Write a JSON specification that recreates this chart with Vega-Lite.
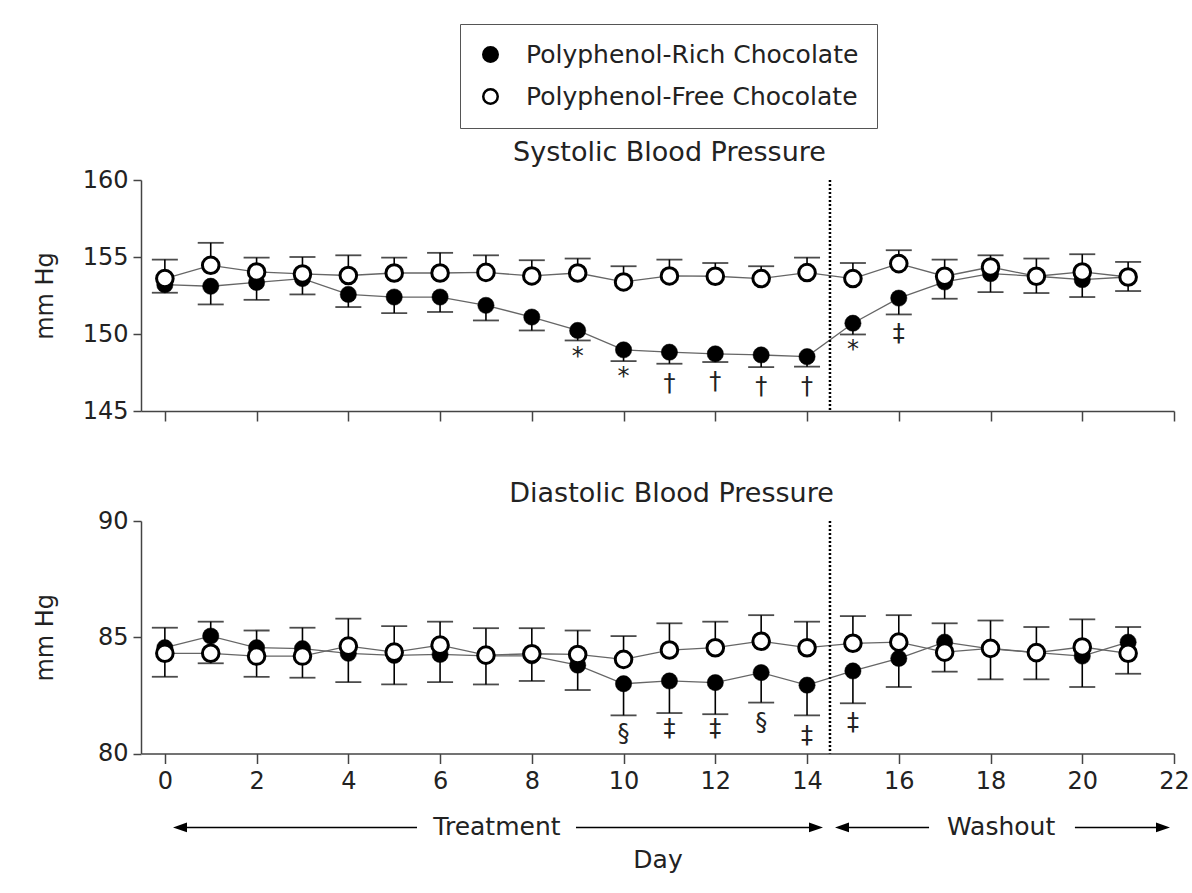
{
  "$schema": "https://vega.github.io/schema/vega-lite/v6.json",
  "background": "white",
  "padding": {"left": 33, "top": 23, "right": 10, "bottom": 5},
  "config": {
    "font": "DejaVu Sans",
    "view": {"stroke": null},
    "axis": {
      "labelFont": "DejaVu Sans", "titleFont": "DejaVu Sans",
      "labelColor": "#222", "titleColor": "#222",
      "domainColor": "#444", "tickColor": "#444",
      "domainWidth": 1.5, "tickWidth": 1.5, "grid": false,
      "labelFontSize": 24, "titleFontSize": 24, "titleFontWeight": "normal",
      "labelFlush": false, "labelOverlap": false
    },
    "title": {"font": "DejaVu Sans", "fontSize": 27, "fontWeight": "normal", "color": "#222"},
    "legend": {
      "labelFont": "DejaVu Sans", "labelFontSize": 25, "labelColor": "#222", "labelLimit": 600,
      "padding": 18, "rowPadding": 16, "symbolSize": 210, "symbolType": "circle",
      "symbolStrokeColor": "black", "symbolStrokeWidth": 2.5, "labelOffset": 23,
      "strokeColor": "#555", "fillColor": "white"
    }
  },
  "datasets": {
    "sys": [
      {"day": 0, "group": "Polyphenol-Rich Chocolate", "mean": 153.2, "err": 152.68},
      {"day": 1, "group": "Polyphenol-Rich Chocolate", "mean": 153.1, "err": 151.92},
      {"day": 2, "group": "Polyphenol-Rich Chocolate", "mean": 153.35, "err": 152.22},
      {"day": 3, "group": "Polyphenol-Rich Chocolate", "mean": 153.6, "err": 152.57},
      {"day": 4, "group": "Polyphenol-Rich Chocolate", "mean": 152.57, "err": 151.75},
      {"day": 5, "group": "Polyphenol-Rich Chocolate", "mean": 152.4, "err": 151.36},
      {"day": 6, "group": "Polyphenol-Rich Chocolate", "mean": 152.4, "err": 151.43},
      {"day": 7, "group": "Polyphenol-Rich Chocolate", "mean": 151.86, "err": 150.88},
      {"day": 8, "group": "Polyphenol-Rich Chocolate", "mean": 151.1, "err": 150.23},
      {"day": 9, "group": "Polyphenol-Rich Chocolate", "mean": 150.23, "err": 149.58},
      {"day": 10, "group": "Polyphenol-Rich Chocolate", "mean": 148.97, "err": 148.24},
      {"day": 11, "group": "Polyphenol-Rich Chocolate", "mean": 148.82, "err": 148.07},
      {"day": 12, "group": "Polyphenol-Rich Chocolate", "mean": 148.71, "err": 148.18},
      {"day": 13, "group": "Polyphenol-Rich Chocolate", "mean": 148.64, "err": 147.85},
      {"day": 14, "group": "Polyphenol-Rich Chocolate", "mean": 148.53, "err": 147.88},
      {"day": 15, "group": "Polyphenol-Rich Chocolate", "mean": 150.7, "err": 149.97},
      {"day": 16, "group": "Polyphenol-Rich Chocolate", "mean": 152.33, "err": 151.27},
      {"day": 17, "group": "Polyphenol-Rich Chocolate", "mean": 153.38, "err": 152.29},
      {"day": 18, "group": "Polyphenol-Rich Chocolate", "mean": 153.92, "err": 152.72},
      {"day": 19, "group": "Polyphenol-Rich Chocolate", "mean": 153.75, "err": 152.66},
      {"day": 20, "group": "Polyphenol-Rich Chocolate", "mean": 153.53, "err": 152.4},
      {"day": 21, "group": "Polyphenol-Rich Chocolate", "mean": 153.7, "err": 152.79},
      {"day": 0, "group": "Polyphenol-Free Chocolate", "mean": 153.6, "err": 154.83},
      {"day": 1, "group": "Polyphenol-Free Chocolate", "mean": 154.46, "err": 155.92},
      {"day": 2, "group": "Polyphenol-Free Chocolate", "mean": 154.03, "err": 154.96},
      {"day": 3, "group": "Polyphenol-Free Chocolate", "mean": 153.9, "err": 155.0},
      {"day": 4, "group": "Polyphenol-Free Chocolate", "mean": 153.8, "err": 155.11},
      {"day": 5, "group": "Polyphenol-Free Chocolate", "mean": 153.96, "err": 154.96},
      {"day": 6, "group": "Polyphenol-Free Chocolate", "mean": 153.96, "err": 155.27},
      {"day": 7, "group": "Polyphenol-Free Chocolate", "mean": 154.0, "err": 155.11},
      {"day": 8, "group": "Polyphenol-Free Chocolate", "mean": 153.77, "err": 154.79},
      {"day": 9, "group": "Polyphenol-Free Chocolate", "mean": 153.96, "err": 154.9},
      {"day": 10, "group": "Polyphenol-Free Chocolate", "mean": 153.38, "err": 154.4},
      {"day": 11, "group": "Polyphenol-Free Chocolate", "mean": 153.77, "err": 154.83},
      {"day": 12, "group": "Polyphenol-Free Chocolate", "mean": 153.75, "err": 154.61},
      {"day": 13, "group": "Polyphenol-Free Chocolate", "mean": 153.6, "err": 154.4},
      {"day": 14, "group": "Polyphenol-Free Chocolate", "mean": 153.99, "err": 154.96},
      {"day": 15, "group": "Polyphenol-Free Chocolate", "mean": 153.6, "err": 154.61},
      {"day": 16, "group": "Polyphenol-Free Chocolate", "mean": 154.57, "err": 155.44},
      {"day": 17, "group": "Polyphenol-Free Chocolate", "mean": 153.75, "err": 154.83},
      {"day": 18, "group": "Polyphenol-Free Chocolate", "mean": 154.35, "err": 155.11},
      {"day": 19, "group": "Polyphenol-Free Chocolate", "mean": 153.75, "err": 154.9},
      {"day": 20, "group": "Polyphenol-Free Chocolate", "mean": 154.03, "err": 155.18},
      {"day": 21, "group": "Polyphenol-Free Chocolate", "mean": 153.7, "err": 154.68}
    ],
    "dia": [
      {"day": 0, "group": "Polyphenol-Rich Chocolate", "mean": 84.55, "err": 83.3},
      {"day": 1, "group": "Polyphenol-Rich Chocolate", "mean": 85.05, "err": 83.88},
      {"day": 2, "group": "Polyphenol-Rich Chocolate", "mean": 84.55, "err": 83.3},
      {"day": 3, "group": "Polyphenol-Rich Chocolate", "mean": 84.51, "err": 83.26},
      {"day": 4, "group": "Polyphenol-Rich Chocolate", "mean": 84.31, "err": 83.07},
      {"day": 5, "group": "Polyphenol-Rich Chocolate", "mean": 84.22, "err": 82.97},
      {"day": 6, "group": "Polyphenol-Rich Chocolate", "mean": 84.26, "err": 83.07},
      {"day": 7, "group": "Polyphenol-Rich Chocolate", "mean": 84.2, "err": 82.97},
      {"day": 8, "group": "Polyphenol-Rich Chocolate", "mean": 84.2, "err": 83.12},
      {"day": 9, "group": "Polyphenol-Rich Chocolate", "mean": 83.8, "err": 82.73},
      {"day": 10, "group": "Polyphenol-Rich Chocolate", "mean": 83.0, "err": 81.64},
      {"day": 11, "group": "Polyphenol-Rich Chocolate", "mean": 83.12, "err": 81.74},
      {"day": 12, "group": "Polyphenol-Rich Chocolate", "mean": 83.05, "err": 81.69},
      {"day": 13, "group": "Polyphenol-Rich Chocolate", "mean": 83.48, "err": 82.19},
      {"day": 14, "group": "Polyphenol-Rich Chocolate", "mean": 82.94, "err": 81.64},
      {"day": 15, "group": "Polyphenol-Rich Chocolate", "mean": 83.55, "err": 82.16},
      {"day": 16, "group": "Polyphenol-Rich Chocolate", "mean": 84.09, "err": 82.86},
      {"day": 17, "group": "Polyphenol-Rich Chocolate", "mean": 84.79, "err": 83.52},
      {"day": 18, "group": "Polyphenol-Rich Chocolate", "mean": 84.5, "err": 83.19},
      {"day": 19, "group": "Polyphenol-Rich Chocolate", "mean": 84.34, "err": 83.19},
      {"day": 20, "group": "Polyphenol-Rich Chocolate", "mean": 84.19, "err": 82.86},
      {"day": 21, "group": "Polyphenol-Rich Chocolate", "mean": 84.79, "err": 83.43},
      {"day": 0, "group": "Polyphenol-Free Chocolate", "mean": 84.31, "err": 85.41},
      {"day": 1, "group": "Polyphenol-Free Chocolate", "mean": 84.31, "err": 85.67},
      {"day": 2, "group": "Polyphenol-Free Chocolate", "mean": 84.19, "err": 85.29},
      {"day": 3, "group": "Polyphenol-Free Chocolate", "mean": 84.19, "err": 85.41},
      {"day": 4, "group": "Polyphenol-Free Chocolate", "mean": 84.62, "err": 85.8},
      {"day": 5, "group": "Polyphenol-Free Chocolate", "mean": 84.36, "err": 85.48},
      {"day": 6, "group": "Polyphenol-Free Chocolate", "mean": 84.66, "err": 85.67},
      {"day": 7, "group": "Polyphenol-Free Chocolate", "mean": 84.23, "err": 85.39},
      {"day": 8, "group": "Polyphenol-Free Chocolate", "mean": 84.29, "err": 85.39},
      {"day": 9, "group": "Polyphenol-Free Chocolate", "mean": 84.26, "err": 85.29},
      {"day": 10, "group": "Polyphenol-Free Chocolate", "mean": 84.05, "err": 85.05},
      {"day": 11, "group": "Polyphenol-Free Chocolate", "mean": 84.45, "err": 85.6},
      {"day": 12, "group": "Polyphenol-Free Chocolate", "mean": 84.55, "err": 85.67},
      {"day": 13, "group": "Polyphenol-Free Chocolate", "mean": 84.83, "err": 85.95},
      {"day": 14, "group": "Polyphenol-Free Chocolate", "mean": 84.55, "err": 85.67},
      {"day": 15, "group": "Polyphenol-Free Chocolate", "mean": 84.74, "err": 85.91},
      {"day": 16, "group": "Polyphenol-Free Chocolate", "mean": 84.79, "err": 85.95},
      {"day": 17, "group": "Polyphenol-Free Chocolate", "mean": 84.36, "err": 85.6},
      {"day": 18, "group": "Polyphenol-Free Chocolate", "mean": 84.52, "err": 85.72},
      {"day": 19, "group": "Polyphenol-Free Chocolate", "mean": 84.34, "err": 85.44},
      {"day": 20, "group": "Polyphenol-Free Chocolate", "mean": 84.58, "err": 85.77},
      {"day": 21, "group": "Polyphenol-Free Chocolate", "mean": 84.31, "err": 85.44}
    ],
    "sysNotes": [
      {"day": 9, "y": 148.53, "sym": "*"},
      {"day": 10, "y": 147.19, "sym": "*"},
      {"day": 11, "y": 146.78, "sym": "†"},
      {"day": 12, "y": 146.86, "sym": "†"},
      {"day": 13, "y": 146.58, "sym": "†"},
      {"day": 14, "y": 146.58, "sym": "†"},
      {"day": 15, "y": 148.97, "sym": "*"},
      {"day": 16, "y": 150.01, "sym": "‡"}
    ],
    "diaNotes": [
      {"day": 10, "y": 80.82, "sym": "§"},
      {"day": 11, "y": 81.04, "sym": "‡"},
      {"day": 12, "y": 81.04, "sym": "‡"},
      {"day": 13, "y": 81.33, "sym": "§"},
      {"day": 14, "y": 80.75, "sym": "‡"},
      {"day": 15, "y": 81.33, "sym": "‡"}
    ],
    "phaseMarker": [{"day": 14.5}],
    "arrowLines": [
      {"start": 0.33, "end": 5.497},
      {"start": 8.963, "end": 14.196},
      {"start": 14.762, "end": 16.66},
      {"start": 19.84, "end": 21.76}
    ],
    "arrowHeads": [
      {"day": 0.33, "dir": "left"},
      {"day": 14.196, "dir": "right"},
      {"day": 14.762, "dir": "left"},
      {"day": 21.76, "dir": "right"}
    ],
    "phaseLabels": [
      {"day": 7.24, "label": "Treatment"},
      {"day": 18.23, "label": "Washout"}
    ]
  },
  "spacing": 57,
  "resolve": {"scale": {"x": "independent", "y": "independent"}},
  "vconcat": [
    {
      "width": 1033,
      "height": 231,
      "title": {"text": "Systolic Blood Pressure", "offset": 1, "dx": 12},
      "data": {"name": "sys"},
      "layer": [
        {"mark": {"type": "line", "color": "#666", "strokeWidth": 1.3},
         "encoding": {
           "x": {"field": "day", "type": "quantitative", "scale": {"domain": [-0.52, 22], "nice": false, "zero": false},
                 "axis": {"values": [0, 2, 4, 6, 8, 10, 12, 14, 16, 18, 20, 22], "labels": false, "tickSize": 10, "title": null}},
           "y": {"field": "mean", "type": "quantitative", "scale": {"domain": [145, 160], "nice": false, "zero": false},
                 "axis": {"values": [145, 150, 155, 160], "tickSize": 8, "labelPadding": 5, "title": "mm Hg", "titlePadding": 25}},
           "detail": {"field": "group"}}},
        {"data": {"name": "phaseMarker"}, "mark": {"type": "rule", "color": "black", "strokeWidth": 2.5, "strokeDash": [2, 2]},
         "encoding": {"x": {"field": "day", "type": "quantitative"}}},
        {"mark": {"type": "rule", "color": "black", "strokeWidth": 1.6},
         "encoding": {"x": {"field": "day", "type": "quantitative"}, "y": {"field": "mean", "type": "quantitative"}, "y2": {"field": "err"}}},
        {"mark": {"type": "tick", "orient": "horizontal", "color": "black", "size": 26, "thickness": 1.8},
         "encoding": {"x": {"field": "day", "type": "quantitative"}, "y": {"field": "err", "type": "quantitative"}}},
        {"transform": [{"filter": "datum.group === 'Polyphenol-Rich Chocolate'"}],
         "mark": {"type": "circle", "size": 265, "opacity": 1, "stroke": "black", "strokeWidth": 0.5},
         "encoding": {"x": {"field": "day", "type": "quantitative"}, "y": {"field": "mean", "type": "quantitative"},
           "fill": {"field": "group", "type": "nominal",
           "scale": {"domain": ["Polyphenol-Rich Chocolate", "Polyphenol-Free Chocolate"], "range": ["black", "white"]},
           "legend": {"orient": "none", "legendX": 319, "legendY": -156, "title": null}}}},
        {"transform": [{"filter": "datum.group === 'Polyphenol-Free Chocolate'"}],
         "mark": {"type": "circle", "size": 275, "opacity": 1, "stroke": "black", "strokeWidth": 3},
         "encoding": {"x": {"field": "day", "type": "quantitative"}, "y": {"field": "mean", "type": "quantitative"},
           "fill": {"field": "group", "type": "nominal",
           "scale": {"domain": ["Polyphenol-Rich Chocolate", "Polyphenol-Free Chocolate"], "range": ["black", "white"]},
           "legend": {"orient": "none", "legendX": 319, "legendY": -156, "title": null}}}},
        {"data": {"name": "sysNotes"}, "mark": {"type": "text", "fontSize": 24, "color": "#222", "baseline": "middle"},
         "encoding": {"x": {"field": "day", "type": "quantitative"}, "y": {"field": "y", "type": "quantitative"}, "text": {"field": "sym"}}}
      ]
    },
    {
      "width": 1033,
      "height": 232.5,
      "title": {"text": "Diastolic Blood Pressure", "offset": 1, "dx": 14},
      "data": {"name": "dia"},
      "layer": [
        {"mark": {"type": "line", "color": "#666", "strokeWidth": 1.3},
         "encoding": {
           "x": {"field": "day", "type": "quantitative", "scale": {"domain": [-0.52, 22], "nice": false, "zero": false},
                 "axis": {"values": [0, 2, 4, 6, 8, 10, 12, 14, 16, 18, 20, 22], "tickSize": 10, "labelPadding": 6, "title": "Day", "titleFontSize": 25, "titlePadding": 54}},
           "y": {"field": "mean", "type": "quantitative", "scale": {"domain": [80, 90], "nice": false, "zero": false},
                 "axis": {"values": [80, 85, 90], "tickSize": 8, "labelPadding": 5, "title": "mm Hg", "titlePadding": 40}},
           "detail": {"field": "group"}}},
        {"data": {"name": "phaseMarker"}, "mark": {"type": "rule", "color": "black", "strokeWidth": 2.5, "strokeDash": [2, 2]},
         "encoding": {"x": {"field": "day", "type": "quantitative"}}},
        {"mark": {"type": "rule", "color": "black", "strokeWidth": 1.6},
         "encoding": {"x": {"field": "day", "type": "quantitative"}, "y": {"field": "mean", "type": "quantitative"}, "y2": {"field": "err"}}},
        {"mark": {"type": "tick", "orient": "horizontal", "color": "black", "size": 26, "thickness": 1.8},
         "encoding": {"x": {"field": "day", "type": "quantitative"}, "y": {"field": "err", "type": "quantitative"}}},
        {"transform": [{"filter": "datum.group === 'Polyphenol-Rich Chocolate'"}],
         "mark": {"type": "circle", "size": 265, "opacity": 1, "stroke": "black", "strokeWidth": 0.5},
         "encoding": {"x": {"field": "day", "type": "quantitative"}, "y": {"field": "mean", "type": "quantitative"},
           "fill": {"field": "group", "type": "nominal",
           "scale": {"domain": ["Polyphenol-Rich Chocolate", "Polyphenol-Free Chocolate"], "range": ["black", "white"]},
           "legend": {"orient": "none", "legendX": 319, "legendY": -156, "title": null}}}},
        {"transform": [{"filter": "datum.group === 'Polyphenol-Free Chocolate'"}],
         "mark": {"type": "circle", "size": 275, "opacity": 1, "stroke": "black", "strokeWidth": 3},
         "encoding": {"x": {"field": "day", "type": "quantitative"}, "y": {"field": "mean", "type": "quantitative"},
           "fill": {"field": "group", "type": "nominal",
           "scale": {"domain": ["Polyphenol-Rich Chocolate", "Polyphenol-Free Chocolate"], "range": ["black", "white"]},
           "legend": {"orient": "none", "legendX": 319, "legendY": -156, "title": null}}}},
        {"data": {"name": "diaNotes"}, "mark": {"type": "text", "fontSize": 24, "color": "#222", "baseline": "middle"},
         "encoding": {"x": {"field": "day", "type": "quantitative"}, "y": {"field": "y", "type": "quantitative"}, "text": {"field": "sym"}}},
        {"data": {"name": "arrowLines"}, "mark": {"type": "rule", "color": "black", "strokeWidth": 1.5},
         "encoding": {"x": {"field": "start", "type": "quantitative"}, "x2": {"field": "end"}, "y": {"datum": 76.82, "type": "quantitative"}}},
        {"data": {"name": "arrowHeads"}, "mark": {"type": "point", "filled": true, "color": "black", "size": 196, "opacity": 1},
         "encoding": {
           "x": {"field": "day", "type": "quantitative"},
           "y": {"datum": 76.82, "type": "quantitative"},
           "shape": {"field": "dir", "type": "nominal", "scale": {"domain": ["left", "right"], "range": ["M-1,0L1,-0.7L1,0.7Z", "M1,0L-1,-0.7L-1,0.7Z"]}, "legend": null}}},
        {"data": {"name": "phaseLabels"}, "mark": {"type": "text", "fontSize": 25, "color": "#222", "baseline": "middle"},
         "encoding": {"x": {"field": "day", "type": "quantitative"}, "y": {"datum": 76.82, "type": "quantitative"}, "text": {"field": "label"}}}
      ]
    }
  ]
}
